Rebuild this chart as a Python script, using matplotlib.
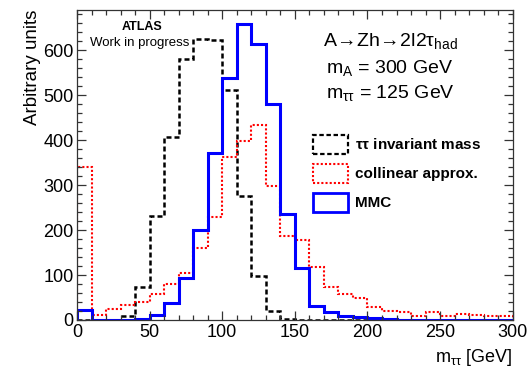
import numpy as np
import matplotlib
matplotlib.use("Agg")
from matplotlib import pyplot as plt
from matplotlib.patches import Patch
from matplotlib.ticker import MultipleLocator

plt.rcParams["font.family"] = ["Liberation Sans", "DejaVu Sans"]
plt.rcParams["mathtext.fontset"] = "custom"
plt.rcParams["mathtext.rm"] = "Liberation Sans"
plt.rcParams["mathtext.it"] = "Liberation Sans:italic"
plt.rcParams["mathtext.bf"] = "Liberation Sans:bold"

# 10 GeV bins, 0..300
edges = np.arange(0, 310, 10)

tautau_mass = [0, 0, 0, 9, 73, 231, 406, 581, 624, 622,
               511, 276, 98, 21, 3, 0, 0, 0, 0, 0,
               0, 0, 0, 0, 0, 0, 0, 0, 0, 0]
collinear = [341, 11, 24, 33, 40, 57, 81, 104, 161, 230,
             363, 398, 433, 298, 187, 178, 118, 73, 57, 50,
             30, 21, 17, 10, 17, 10, 14, 12, 10, 10]
mmc = [22, 0, 0, 0, 2, 11, 37, 94, 201, 372,
       538, 658, 613, 480, 235, 116, 32, 18, 10, 7,
       4, 2, 1, 0, 0, 0, 0, 0, 0, 0]

labels = [r"$\mathregular{\tau\tau}$ invariant mass", "collinear approx.", "MMC"]

fig = plt.figure(figsize=(5.29, 3.70), dpi=100, facecolor="white")
ax = fig.add_axes((77 / 529, 50 / 370, 435.7 / 529, 310 / 370))

ax.stairs(tautau_mass, edges, color="black", lw=1.8, linestyle=(0, (2, 1.2)))
ax.stairs(collinear, edges, color="#ff0000", lw=1.5, linestyle=(0, (1, 1)))
ax.stairs(mmc, edges, color="#0000ff", lw=2.2)

ax.set_xlim(0, 300)
ax.set_ylim(0, 689)
ax.xaxis.set_major_locator(MultipleLocator(50))
ax.xaxis.set_minor_locator(MultipleLocator(10))
ax.yaxis.set_major_locator(MultipleLocator(100))
ax.yaxis.set_minor_locator(MultipleLocator(20))
ax.tick_params(which="both", direction="in", top=True, right=True, color="#333333")
ax.tick_params(which="major", length=6.5, width=0.9, labelsize=13)
ax.tick_params(which="minor", length=3.3, width=0.9)
ax.tick_params(axis="x", pad=3)
ax.tick_params(axis="y", pad=2.5)
for s in ax.spines.values():
    s.set_linewidth(0.9)
    s.set_color("#333333")

ax.set_ylabel("Arbitrary units", fontsize=13.5, loc="top")
ax.yaxis.set_label_coords(-0.082, 1.0)
ax.set_xlabel(r"m$_{\mathregular{\tau\tau}}$ [GeV]", fontsize=13, loc="right")

fig.text(142 / 529, 1 - 27 / 370, "ATLAS", fontsize=9, fontweight="bold",
         ha="center", va="center")
fig.text(140 / 529, 1 - 43 / 370, "Work in progress", fontsize=9.5,
         ha="center", va="center")

fig.text(390 / 529, 1 - 41 / 370,
         r"$\mathregular{A\!\rightarrow\! Zh\!\rightarrow\! 2l2\tau_{had}}$",
         fontsize=14, ha="center", va="center")
fig.text(390 / 529, 1 - 68 / 370, r"m$_{\mathregular{A}}$ = 300 GeV",
         fontsize=14, ha="center", va="center")
fig.text(390 / 529, 1 - 93 / 370, r"m$_{\mathregular{\tau\tau}}$ = 125 GeV",
         fontsize=14, ha="center", va="center")

handles = [
    Patch(facecolor="none", edgecolor="black", lw=1.6, linestyle=(0, (2, 1.2))),
    Patch(facecolor="none", edgecolor="#ff0000", lw=1.5, linestyle=(0, (1, 1))),
    Patch(facecolor="none", edgecolor="#0000ff", lw=2.0),
]
fig.legend(handles, labels, loc="upper left", bbox_to_anchor=(305 / 529, 1 - 127 / 370),
           frameon=False, borderpad=0, handlelength=2.3, handleheight=1.55,
           labelspacing=0.65, handletextpad=0.45,
           prop={"size": 11, "weight": "bold"})

fig.savefig("out.png", dpi=100, facecolor="white")
